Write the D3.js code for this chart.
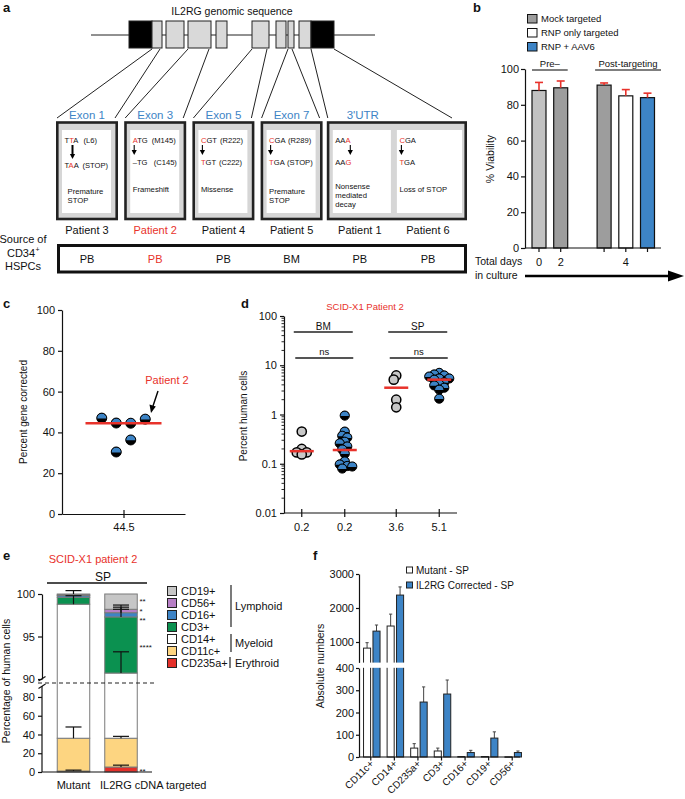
<!DOCTYPE html>
<html><head><meta charset="utf-8">
<script src="https://cdn.jsdelivr.net/npm/d3@7"></script>
<style>body{margin:0;background:#fff}svg{display:block}text{font-family:"Liberation Sans",Arial,Helvetica,sans-serif}</style>
</head><body>
<svg id="fig" width="685" height="799" xmlns="http://www.w3.org/2000/svg"></svg>
<script>
// ================= DATA =================
// Panel a
const geneTitle = "IL2RG genomic sequence";
const geneLength = 284;                      // genomic units of the schematic
const geneExonStart = [38, 61, 75, 97, 125, 161, 185, 197, 208, 220];
const geneExonEnd   = [61, 71, 93, 120, 136, 178, 195, 203, 220, 243];
const geneExonType  = ["utr","cds","cds","cds","cds","cds","cds","cds","cds","utr"];
const zoomedExonIndex = [1, 3, 5, 7, 9];
const exonLabels = ["Exon 1", "Exon 3", "Exon 5", "Exon 7", "3'UTR"];
const exonPatients = [["Patient 3"], ["Patient 2"], ["Patient 4"], ["Patient 5"], ["Patient 1", "Patient 6"]];
const patients = ["Patient 3", "Patient 2", "Patient 4", "Patient 5", "Patient 1", "Patient 6"];
const highlightPatient = "Patient 2";
const sources = ["PB", "PB", "PB", "BM", "PB", "PB"];
const mutFrom = ["T{T}A", "{A}TG", "{C}GT", "{C}GA", "AA{A}", "{C}GA"];
const mutFromNote = ["(L6)", "(M145)", "(R222)", "(R289)", "", ""];
const mutTo = ["T{A}A", "\u2013TG", "{T}GT", "{T}GA", "AA{G}", "{T}GA"];
const mutToNote = ["(STOP)", "(C145)", "(C222)", "(STOP)", "", ""];
const mutEffect = [["Premature", "STOP"], ["Frameshift"], ["Missense"], ["Premature", "STOP"], ["Nonsense", "mediated", "decay"], ["Loss of STOP"]];

// Panel b
const bLegend = ["Mock targeted", "RNP only targeted", "RNP + AAV6"];
const bBars = ["b0", "b1", "b2", "b3", "b4"];
const bDays = ["0", "2", "", "4", ""];
const bTreat = ["Pre", "Mock targeted", "Mock targeted", "RNP only targeted", "RNP + AAV6"];
const bValues = [88, 89.5, 91, 85, 84];
const bErr = [4.5, 3.8, 1.2, 3.5, 2.5];
const bTicks = [0, 20, 40, 60, 80, 100];

// Panel c
const cCategory = ["44.5"];
const cValues = [47, 44.6, 44.5, 46.5, 30.4, 36.3];
const cMean = 44.5;
const cTicks = [0, 20, 40, 60, 80, 100];

// Panel d
const dTissues = ["BM", "SP"];
const dArms = ["Mutant", "Corrected"];
const dBMmut = [0.45, 0.2, 0.17, 0.17, 0.155];
const dBMcor = [0.95, 0.45, 0.37, 0.34, 0.28, 0.26, 0.225, 0.195, 0.16, 0.112, 0.097, 0.09, 0.088, 0.08];
const dSPmut = [6.2, 5.1, 2.0, 1.4];
const dSPcor = [7, 6.5, 6.2, 5.9, 5.4, 5.4, 5.1, 4.5, 4.1, 3.9, 3.5, 3.2, 2.1];
const dMeans = [0.18, 0.19, 3.5, 5.1];
const dMeanLabels = ["0.2", "0.2", "3.6", "5.1"];
const dTicks = [0.01, 0.1, 1, 10, 100];

// Panel e  (stack order bottom -> top)
const eCells = ["CD235a+", "CD11c+", "CD14+", "CD3+", "CD16+", "CD56+", "CD19+"];
const eBars = ["Mutant", "IL2RG cDNA targeted"];
const eMutant    = [1.0, 35.0, 62.8, 0.8, 0.2, 0.1, 0.1];
const eMutantErr = [1.0, 12.0, 1.0, 0, 0, 0, 0.4];
const eCorr      = [5.3, 30.7, 54.7, 6.6, 0.5, 0.4, 1.8];
const eCorrErr   = [2.0, 2.0, 2.5, 1.4, 0.4, 0.25, 0];
const eStars     = ["**", "", "", "****", "**", "*", "**"];
const eTicksLow = [0, 20, 40, 60, 80];
const eTicksHigh = [90, 95, 100];

// Panel f
const fCats = ["CD11c+", "CD14+", "CD235a+", "CD3+", "CD16+", "CD19+", "CD56+"];
const fSeries = ["Mutant - SP", "IL2RG Corrected - SP"];
const fMutant = [820, 1470, 40, 27, 2, 2, 1];
const fMutantErr = [160, 350, 20, 13, 0, 0, 0];
const fCorr = [1320, 2380, 247, 283, 20, 85, 20];
const fCorrErr = [180, 240, 68, 63, 10, 28, 7];
const fTicksLow = [0, 100, 200, 300, 400];
const fTicksHigh = [1000, 2000, 3000];

// ================= STYLE =================
const RED = "#e8322b", BLUE = "#3d84c6", INK = "#111";
const eColors = {"CD235a+":"#e3302a","CD11c+":"#fdd581","CD14+":"#ffffff","CD3+":"#0b9150","CD16+":"#3d84c6","CD56+":"#b77fc6","CD19+":"#c6c6c6"};
const svg = d3.select("#fig");

function T(g, x, y, s, o = {}) {
  const t = g.append("text").attr("x", x).attr("y", y).text(s)
    .attr("font-size", o.fs || 11).attr("fill", o.fill || INK)
    .attr("text-anchor", o.anchor || "start");
  if (o.bold) t.attr("font-weight", "bold");
  return t;
}
function styleAxis(g, fs) {
  g.selectAll("text").attr("font-size", fs).attr("fill", INK)
    .attr("font-family", '"Liberation Sans",Arial,sans-serif');
  g.selectAll("path,line").attr("stroke", INK).attr("stroke-width", 1.2);
}
function L(g, x1, y1, x2, y2, c = INK, w = 1.2) {
  return g.append("line").attr("x1", x1).attr("y1", y1).attr("x2", x2).attr("y2", y2)
    .attr("stroke", c).attr("stroke-width", w);
}
function halfDot(g, x, y, r) {
  g.append("circle").attr("cx", x).attr("cy", y).attr("r", r).attr("fill", "#000");
  g.append("path").attr("d", `M${x - r},${y + 0.4}A${r},${r} 0 0 1 ${x + r},${y + 0.4}Z`).attr("fill", BLUE);
  g.append("circle").attr("cx", x).attr("cy", y).attr("r", r).attr("fill", "none").attr("stroke", "#000").attr("stroke-width", 1);
}

// panel letters
[["a",3,12],["b",473,12],["c",3,308],["d",241,308],["e",3,560],["f",313,560]]
  .forEach(([s,x,y]) => T(svg, x, y, s, {fs: 13, bold: true}));

// ================= PANEL A =================
{
  const g = svg.append("g");
  const gx = d3.scaleLinear().domain([0, geneLength]).range([91, 375]);
  T(g, 232, 15, geneTitle, {fs: 10.5, anchor: "middle"});
  L(g, gx(0), 35, gx(geneLength), 35, "#222", 1);
  geneExonStart.forEach((s, i) => {
    g.append("rect").attr("x", gx(s)).attr("y", 21).attr("width", gx(geneExonEnd[i]) - gx(s)).attr("height", 27)
      .attr("fill", geneExonType[i] === "utr" ? "#000" : "#d9d9d9").attr("stroke", "#222").attr("stroke-width", 1);
  });
  const pX = d3.scalePoint().domain(patients).range([87, 428]);
  const boxes = exonPatients.map((ps, i) => {
    const multi = ps.length > 1;
    return {l: pX(ps[0]) - (multi ? 33 : 31), r: pX(ps[ps.length - 1]) + (multi ? 39 : 31), ps, label: exonLabels[i], multi};
  });
  function codon(g, x, y, s, fs) {
    const t = g.append("text").attr("x", x).attr("y", y).attr("font-size", fs);
    s.split(/(\{.\})/).filter(Boolean).forEach(part => {
      const red = part.startsWith("{");
      t.append("tspan").attr("fill", red ? RED : INK).text(red ? part.slice(1, -1) : part);
    });
  }
  boxes.forEach((b, i) => {
    const ei = zoomedExonIndex[i];
    L(g, gx(geneExonStart[ei]), 49, b.l + 1, 118, "#222", 1);
    L(g, gx(geneExonEnd[ei]) - (b.multi ? 0 : 2), 49, b.multi ? b.r - 15 : b.r - 3, 118, "#222", 1);
    T(g, b.multi ? b.l + 36 : (b.l + b.r) / 2, 118.5, b.label, {fs: 11.5, fill: BLUE, anchor: "middle"});
    g.append("rect").attr("x", b.l + 1.3).attr("y", 122.5).attr("width", b.r - b.l - 2.6).attr("height", 96.5)
      .attr("fill", "#d6d6d6").attr("stroke", "#222").attr("stroke-width", 2.6);
    let inner;
    if (!b.multi) inner = [[b.l + 6, b.r - 7]];
    else { const mid = (pX(b.ps[0]) + pX(b.ps[1])) / 2; inner = [[b.l + 6, mid - 3], [mid + 3, b.r - 5]]; }
    inner.forEach(([l, r], k) => {
      g.append("rect").attr("x", l).attr("y", 130).attr("width", r - l).attr("height", 83).attr("fill", "#fff");
      const pi = patients.indexOf(b.ps[k]);
      const tx = l + 2.5;
      codon(g, tx, 142.7, mutFrom[pi], 7.6);
      if (mutFromNote[pi]) T(g, tx + 19, 142.7, mutFromNote[pi], {fs: 7.6});
      const ax = pi === 0 ? tx + 8 : (mutFromNote[pi] ? tx + 1.5 : (k === 0 ? tx + 15 : tx + 2));
      const y2 = pi === 0 ? 158 : 154;
      L(g, ax, 145, ax, y2 - 3, "#000", pi === 0 ? 2 : 1.1);
      g.append("path").attr("d", `M${ax - 2.6},${y2 - 4}L${ax + 2.6},${y2 - 4}L${ax},${y2 + 1}Z`).attr("fill", "#000");
      const yTo = pi === 0 ? 167.5 : 164.5;
      codon(g, tx, yTo, mutTo[pi], 7.6);
      if (mutToNote[pi]) T(g, tx + (pi === 1 ? 21 : 18), yTo, mutToNote[pi], {fs: 7.6});
      const eff = mutEffect[pi];
      const y0 = eff.length === 3 ? 189 : (eff.length === 2 ? 194 : 192);
      eff.forEach((s, j) => T(g, tx + (pi === 0 ? 3 : 0), y0 + j * 9.2, s, {fs: 7.7}));
    });
  });
  patients.forEach((p, i) => {
    const c = p === highlightPatient ? RED : INK;
    T(g, pX(p), 234, p, {fs: 11, anchor: "middle", fill: c});
    T(g, pX(p), 263, sources[i], {fs: 11, anchor: "middle", fill: c});
  });
  T(g, 23, 243, "Source of", {fs: 11, anchor: "middle"});
  T(g, 21, 257, "CD34", {fs: 11, anchor: "middle"});
  T(g, 35.5, 252, "+", {fs: 7});
  T(g, 23, 270, "HSPCs", {fs: 11, anchor: "middle"});
  g.append("rect").attr("x", 58.5).attr("y", 245.5).attr("width", 407).attr("height", 26.5)
    .attr("fill", "none").attr("stroke", "#111").attr("stroke-width", 3);
}

// ================= PANEL B =================
{
  const g = svg.append("g");
  const y = d3.scaleLinear().domain([0, 100]).range([248, 69]);
  const slots = [bBars[0], bBars[1], "_", bBars[2], bBars[3], bBars[4]];
  const step = 21.7;
  const x = d3.scaleBand().domain(slots).range([539 - step / 2, 539 - step / 2 + 6 * step])
    .paddingInner(0.355).paddingOuter(0.1775);
  const fill = (t, i) => i === 0 ? "#c2c2c2" : t === "Mock targeted" ? "#9d9d9d" : t === "RNP only targeted" ? "#fff" : BLUE;
  const legFill = ["#9d9d9d", "#fff", BLUE];
  bLegend.forEach((s, i) => {
    g.append("rect").attr("x", 527.5).attr("y", 14.5 + i * 14).attr("width", 9.5).attr("height", 8.5)
      .attr("fill", legFill[i]).attr("stroke", "#111").attr("stroke-width", 1);
    T(g, 541, 22.3 + i * 14, s, {fs: 9.5});
  });
  bBars.forEach((b, i) => {
    g.append("rect").attr("x", x(b)).attr("y", y(bValues[i])).attr("width", x.bandwidth()).attr("height", y(0) - y(bValues[i]))
      .attr("fill", fill(bTreat[i], i)).attr("stroke", "#111").attr("stroke-width", 1.2);
    const cx = x(b) + x.bandwidth() / 2, yt = y(bValues[i] + bErr[i]);
    L(g, cx, y(bValues[i]), cx, yt, RED, 1.6);
    L(g, cx - 4, yt, cx + 4, yt, RED, 1.6);
  });
  const ya = g.append("g").attr("transform", "translate(525,0)")
    .call(d3.axisLeft(y).tickValues(bTicks).tickSize(4).tickPadding(2).tickSizeOuter(0));
  styleAxis(ya, 11);
  L(g, 525, 248, 661, 248, INK, 1.2);
  bBars.forEach((b, i) => {
    const cx = x(b) + x.bandwidth() / 2;
    L(g, cx, 248, cx, 252, INK, 1.2);
    if (bDays[i]) T(g, cx, 266, bDays[i], {fs: 11, anchor: "middle"});
  });
  T(g, 475, 265, "Total days", {fs: 10.5});
  T(g, 475, 279, "in culture", {fs: 10.5});
  L(g, 525, 276, 670, 276, "#000", 2.4);
  g.append("path").attr("d", "M668,270.5L684,276L668,281.5Z").attr("fill", "#000");
  g.append("text").attr("transform", "translate(494,159) rotate(-90)").attr("text-anchor", "middle")
    .attr("font-size", 10.5).attr("fill", INK).text("% Viability");
  const pre0 = x(bBars[0]), pre1 = x(bBars[1]) + x.bandwidth();
  L(g, pre0, 70, pre1, 70, "#555", 1.5);
  T(g, (pre0 + pre1) / 2, 67, "Pre\u2013", {fs: 9.5, anchor: "middle"});
  const po0 = x(bBars[2]) - 2, po1 = 661;
  L(g, po0, 70, po1, 70, "#555", 1.5);
  T(g, (po0 + po1) / 2, 67, "Post-targeting", {fs: 9.5, anchor: "middle"});
}

// ================= PANEL C =================
{
  const g = svg.append("g");
  const y = d3.scaleLinear().domain([0, 100]).range([514, 310]);
  const x = d3.scalePoint().domain(cCategory).range([62, 185]).padding(0.5);
  const ya = g.append("g").attr("transform", "translate(62,0)")
    .call(d3.axisLeft(y).tickValues(cTicks).tickSize(4).tickPadding(3).tickSizeOuter(0));
  styleAxis(ya, 11);
  const xa = g.append("g").attr("transform", "translate(0,514)")
    .call(d3.axisBottom(x).tickSize(4).tickPadding(5).tickSizeOuter(0));
  styleAxis(xa, 11);
  xa.selectAll(".tick line").attr("y1", -4);
  const idx = d3.range(cValues.length).sort((a, b) => cValues[a] - cValues[b]);
  const clusters = []; let cur = [idx[0]];
  for (let k = 1; k < idx.length; k++) {
    if (Math.abs(y(cValues[idx[k]]) - y(cValues[idx[k - 1]])) < 14) cur.push(idx[k]);
    else { clusters.push(cur); cur = [idx[k]]; }
  }
  clusters.push(cur);
  const off = [];
  clusters.forEach(c => { c.sort((a, b) => a - b); c.forEach((i, j) => off[i] = (j - (c.length - 1) / 2) * 14.5); });
  const cx = x(cCategory[0]);
  cValues.forEach((v, i) => halfDot(g, cx + off[i], y(v), 5));
  L(g, cx - 38, y(cMean), cx + 38, y(cMean), RED, 2.5);
  T(g, 167, 383.5, "Patient 2", {fs: 11, anchor: "middle", fill: RED});
  L(g, 158, 391, 153, 406, "#000", 1.4);
  g.append("path").attr("d", "M149.5,404.5L155.8,406.6L151,413Z").attr("fill", "#000");
  g.append("text").attr("transform", "translate(27,412) rotate(-90)").attr("text-anchor", "middle")
    .attr("font-size", 10).attr("fill", INK).text("Percent gene corrected");
}

// ================= PANEL D =================
{
  const g = svg.append("g");
  const y = d3.scaleLog().domain([0.01, 100]).range([513, 316]);
  const xo = d3.scaleBand().domain(dTissues).range([284, 457]).paddingInner(0.2).paddingOuter(0.0155);
  const xi = d3.scalePoint().domain(dArms).range([0, xo.bandwidth()]).padding(0.379);
  const X = (t, a) => xo(t) + xi(a);
  T(g, 365, 310, "SCID-X1 Patient 2", {fs: 9.5, anchor: "middle", fill: RED});
  const ya = g.append("g").attr("transform", "translate(284,0)")
    .call(d3.axisLeft(y).tickValues(dTicks).tickFormat(d => String(d)).tickSize(4).tickPadding(3).tickSizeOuter(0));
  styleAxis(ya, 11);
  [0.01, 0.1, 1, 10].forEach(dec => d3.range(2, 10).forEach(m => L(g, 284, y(dec * m), 281.5, y(dec * m), INK, 0.9)));
  L(g, 284, 513, 457, 513, INK, 1.2);
  const groups = [[dBMmut, "BM", "Mutant"], [dBMcor, "BM", "Corrected"], [dSPmut, "SP", "Mutant"], [dSPcor, "SP", "Corrected"]];
  groups.forEach(([vals, t, a], gi) => {
    const cx = X(t, a);
    L(g, cx, 509, cx, 517, INK, 1.2);
    T(g, cx, 531, dMeanLabels[gi], {fs: 11, anchor: "middle"});
    const placed = [];
    vals.forEach(v => {
      const yy = y(v);
      for (let k = 0; k < 60; k++) {
        const dx = k === 0 ? 0 : (k % 2 ? -1 : 1) * Math.ceil(k / 2) * 2.5;
        if (placed.every(p => Math.hypot(p.x - dx, p.y - yy) >= 4.8)) { placed.push({x: dx, y: yy}); break; }
      }
    });
    placed.forEach(p => {
      if (a === "Mutant") g.append("circle").attr("cx", cx + p.x).attr("cy", p.y).attr("r", 4.6)
        .attr("fill", "#c8c8c8").attr("stroke", "#000").attr("stroke-width", 1.5);
      else halfDot(g, cx + p.x, p.y, 4.6);
    });
    L(g, cx - 12, y(dMeans[gi]), cx + 12, y(dMeans[gi]), RED, 2.5);
  });
  dTissues.forEach(t => {
    const c = xo(t) + xo.bandwidth() / 2;
    L(g, c - 29.5, 332, c + 29.5, 332, "#222", 1.5);
    T(g, c, 329.5, t, {fs: 10, anchor: "middle"});
    L(g, c - 28, 358, c + 30, 358, "#555", 1.8);
    T(g, c + 1, 355, "ns", {fs: 9.5, anchor: "middle"});
  });
  g.append("text").attr("transform", "translate(247,416) rotate(-90)").attr("text-anchor", "middle")
    .attr("font-size", 10).attr("fill", INK).text("Percent human cells");
}

// ================= PANEL E =================
{
  const g = svg.append("g");
  const yLo = d3.scaleLinear().domain([0, 90]).range([772, 687.6]);
  const yHi = d3.scaleLinear().domain([90, 100]).range([679, 594]);
  const yE = v => v <= 90 ? yLo(v) : yHi(v);
  const x = d3.scaleBand().domain(eBars).range([42, 152.5]).paddingInner(0.316).paddingOuter(0.321);
  T(g, 93, 563, "SCID-X1 patient 2", {fs: 11, anchor: "middle", fill: RED});
  L(g, 47, 583, 147, 583, "#111", 1.6);
  T(g, 103, 581, "SP", {fs: 12, anchor: "middle"});
  [[eMutant, eMutantErr], [eCorr, eCorrErr]].forEach(([vals, errs], bi) => {
    const bx = x(eBars[bi]), bw = x.bandwidth(), cx = bx + bw / 2;
    let acc = 0;
    const segs = vals.map((v, i) => { const s = {i, a: acc, b: acc + v}; acc += v; return s; });
    segs.forEach(s => {
      g.append("rect").attr("x", bx).attr("y", yE(s.b)).attr("width", bw).attr("height", Math.max(0.3, yE(s.a) - yE(s.b)))
        .attr("fill", eColors[eCells[s.i]]).attr("stroke", "#7a7a7a").attr("stroke-width", 1);
    });
    segs.forEach(s => {
      if (errs[s.i] > 0) {
        const yt = yE(s.b + errs[s.i]);
        L(g, cx, yE(s.b), cx, yt, "#111", 1.2);
        L(g, cx - 8, yt, cx + 8, yt, "#111", 1.2);
      }
    });
    if (bi === 1) {
      // significance stars next to their segments, stacked so they do not collide
      const FS = 8, GAP = 9.6;
      const marks = segs.filter(s => eStars[s.i]).map(s => ({s: eStars[s.i], c: yE((s.a + s.b) / 2)}))
        .sort((p, q) => p.c - q.c);
      // group close marks and spread them evenly around their mean
      let k = 0;
      while (k < marks.length) {
        let j = k;
        while (j + 1 < marks.length && marks[j + 1].c - marks[j].c < GAP) j++;
        const grp = marks.slice(k, j + 1);
        const m = d3.mean(grp, d => d.c);
        grp.forEach((d, n) => d.y = m + (n - (grp.length - 1) / 2) * GAP);
        k = j + 1;
      }
      marks.forEach(d => T(g, 139.5, d.y + 0.58 * FS, d.s, {fs: FS}));
    }
    T(g, bi === 0 ? cx : 100, 789, eBars[bi], {fs: 11, anchor: bi === 0 ? "middle" : "start"});
  });
  const a1 = g.append("g").attr("transform", "translate(42,0)")
    .call(d3.axisLeft(yLo).tickValues(eTicksLow).tickSize(4).tickPadding(3).tickSizeOuter(0));
  styleAxis(a1, 11);
  a1.select(".domain").attr("d", `M0,${yLo(0)}V686`);
  const a2 = g.append("g").attr("transform", "translate(42,0)")
    .call(d3.axisLeft(yHi).tickValues(eTicksHigh).tickSize(4).tickPadding(3).tickSizeOuter(0));
  styleAxis(a2, 11);
  L(g, 42, 772, 152, 772, INK, 1.2);
  L(g, 38.5, 681, 45.5, 676.5, INK, 1.1);
  L(g, 38.5, 688.5, 45.5, 684, INK, 1.1);
  L(g, 38, 683, 157, 683, "#222", 1.2).attr("stroke-dasharray", "4,3");
  const leg = eCells.slice().reverse();
  leg.forEach((c, i) => {
    const yy = 591 + i * 12;
    g.append("rect").attr("x", 167.5).attr("y", yy - 4.5).attr("width", 9).attr("height", 9)
      .attr("fill", eColors[c]).attr("stroke", "#222").attr("stroke-width", 1);
    T(g, 181, yy + 4, c, {fs: 11});
  });
  L(g, 231, 585, 231, 627, "#222", 1.2); T(g, 235, 610, "Lymphoid", {fs: 11});
  L(g, 231, 634, 231, 652, "#222", 1.2); T(g, 235, 647, "Myeloid", {fs: 11});
  L(g, 230, 657, 230, 668, "#222", 1.2); T(g, 235, 667, "Erythroid", {fs: 11});
  g.append("text").attr("transform", "translate(10,681) rotate(-90)").attr("text-anchor", "middle")
    .attr("font-size", 10.5).attr("fill", INK).text("Percentage of human cells");
}

// ================= PANEL F =================
{
  const g = svg.append("g");
  const yLo = d3.scaleLinear().domain([0, 400]).range([757, 668]);
  const yHi = d3.scaleLinear().domain([400, 3000]).range([662.4, 574]);
  const yF = v => v <= 400 ? yLo(v) : yHi(v);
  const xo = d3.scaleBand().domain(fCats).range([360, 525]).paddingInner(0.3).paddingOuter(0.15);
  const xi = d3.scaleBand().domain(fSeries).range([0, xo.bandwidth()]).paddingInner(0.25);
  [[fMutant, fMutantErr, "#fff"], [fCorr, fCorrErr, BLUE]].forEach(([vals, errs, col], si) => {
    vals.forEach((v, i) => {
      const bx = xo(fCats[i]) + xi(fSeries[si]), bw = xi.bandwidth(), cx = bx + bw / 2;
      if (errs[i] > 0) {
        const yt = yF(v + errs[i]);
        L(g, cx, yF(v), cx, yt, "#444", 1);
        L(g, cx - 1.6, yt, cx + 1.6, yt, "#444", 1);
      }
      g.append("rect").attr("x", bx).attr("y", yF(v)).attr("width", bw).attr("height", Math.max(0.5, yF(0) - yF(v)))
        .attr("fill", col).attr("stroke", "#222").attr("stroke-width", 1);
    });
  });
  g.append("rect").attr("x", 355).attr("y", 662.6).attr("width", 170).attr("height", 5.2).attr("fill", "#fff");
  const fmt = d3.format("d");
  const a1 = g.append("g").attr("transform", "translate(359,0)")
    .call(d3.axisLeft(yLo).tickValues(fTicksLow).tickFormat(fmt).tickSize(3).tickPadding(2).tickSizeOuter(0));
  styleAxis(a1, 11);
  const a2 = g.append("g").attr("transform", "translate(359,0)")
    .call(d3.axisLeft(yHi).tickValues(fTicksHigh).tickFormat(fmt).tickSize(3).tickPadding(2).tickSizeOuter(0));
  styleAxis(a2, 11);
  L(g, 359, 757, 520, 757, INK, 1.2);
  fCats.forEach(c => {
    const cx = xo(c) + xo.bandwidth() / 2 - 1;
    L(g, cx, 757, cx, 760.5, INK, 1.2);
    g.append("text").attr("transform", `translate(${cx + 1},762) rotate(-45)`).attr("text-anchor", "end")
      .attr("dy", "0.35em").attr("font-size", 10).attr("fill", INK).text(c);
  });
  const legCol = ["#fff", BLUE];
  fSeries.forEach((s, i) => {
    g.append("rect").attr("x", 406.5).attr("y", 567 + i * 15).attr("width", 6).attr("height", 6)
      .attr("fill", legCol[i]).attr("stroke", "#222").attr("stroke-width", 1);
    T(g, 416, 574 + i * 15, s, {fs: 10});
  });
  g.append("text").attr("transform", "translate(324,666) rotate(-90)").attr("text-anchor", "middle")
    .attr("font-size", 10.5).attr("fill", INK).text("Absolute numbers");
}
</script>
</body></html>
